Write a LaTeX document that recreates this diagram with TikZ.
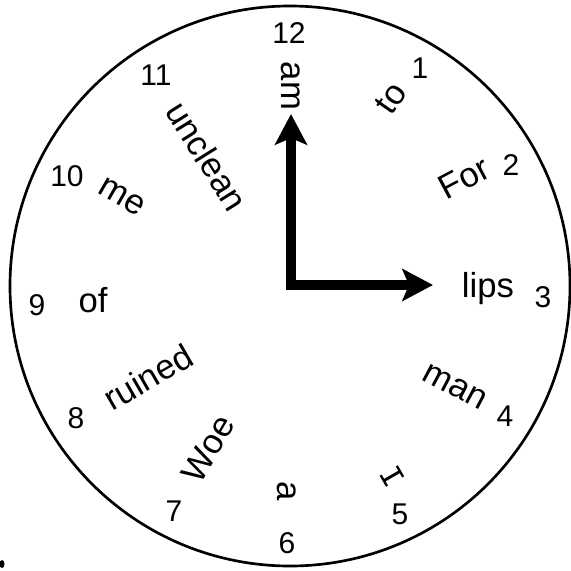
\documentclass[tikz,border=0pt]{standalone}
\usepackage{fontspec}
\setmainfont{Liberation Sans}
\newfontfamily\ibeamfont{Liberation Mono}
\usetikzlibrary{arrows.meta}
\begin{document}
\begin{tikzpicture}[x=0.75pt,y=-0.75pt,
  hour/.style={inner sep=0pt,font=\fontsize{22.5}{22.5}\selectfont},
  word/.style={inner sep=0pt,font=\fontsize{26}{26}\selectfont},
  hand/.style={line width=7pt,line join=miter,
    {Stealth[length=23pt,width=24pt,inset=5pt]}-{Stealth[length=23pt,width=24pt,inset=5pt]}}]
\useasboundingbox (0,0) rectangle (571,571);
\node[draw,circle,line width=2pt,minimum size=560*0.75pt,inner sep=0pt] (face) at (290,286) {};
% hour numerals
\node[hour] (h12) at (289,33) {12};
\node[hour] (h1) at (420,68) {1};
\node[hour] (h2) at (511,165) {2};
\node[hour] (h3) at (543,297) {3};
\node[hour] (h4) at (505,416) {4};
\node[hour] (h5) at (400,514) {5};
\node[hour] (h6) at (287,543) {6};
\node[hour] (h7) at (174,511) {7};
\node[hour] (h8) at (76,418) {8};
\node[hour] (h9) at (37,305) {9};
\node[hour] (h10) at (67,176) {10};
\node[hour] (h11) at (156,75) {11};
% words
\node[word,rotate=-90] (w12) at (291,86) {am};
\node[word,rotate=55] (w1) at (391,98) {to};
\node[word,rotate=28] (w2) at (464,178) {For};
\node[word] (w3) at (488,289) {lips};
\node[word,rotate=-28] (w4) at (455,387) {man};
\node[word,rotate=-60,font=\ibeamfont\fontsize{24}{24}\selectfont] (w5) at (392,477) {I};
\node[word,rotate=-90] (w6) at (287,491) {a};
\node[word,rotate=60] (w7) at (208,449) {Woe};
\node[word,rotate=30] (w8) at (148,377) {ruined};
\node[word] (w9) at (93,300) {of};
\node[word,rotate=-30] (w10) at (122,197) {me};
\node[word,rotate=-58] (w11) at (207,156) {unclean};
% hands
\coordinate (hub) at (291,285);
\coordinate (mintip) at (291,114);
\coordinate (hrtip) at (433,285);
\draw[hand] (mintip) -- (hub) -- (hrtip);
% stray mark
\fill (2,564) ellipse (2.5 and 4);
\end{tikzpicture}
\end{document}
